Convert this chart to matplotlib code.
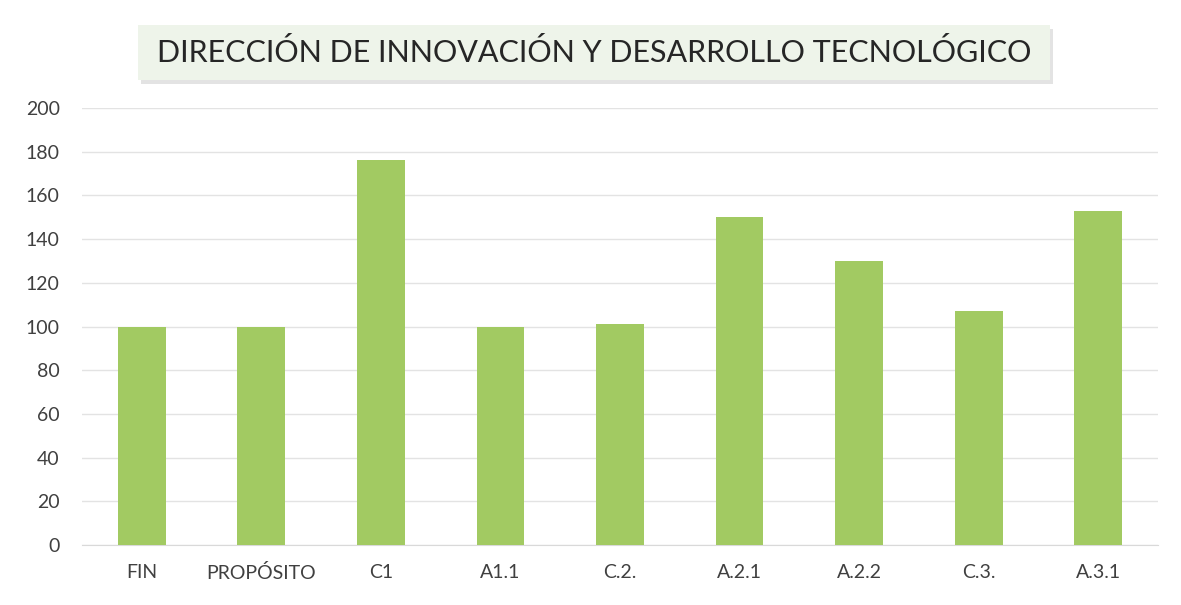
import matplotlib.pyplot as plt
from matplotlib.patches import Rectangle

categories = ['FIN', 'PROPÓSITO', 'C1', 'A1.1', 'C.2.', 'A.2.1', 'A.2.2', 'C.3.', 'A.3.1']
values = [100, 100, 176, 100, 101, 150, 130, 107, 153]
yticks = [0, 20, 40, 60, 80, 100, 120, 140, 160, 180, 200]

plt.rcParams['font.family'] = ['Lato', 'DejaVu Sans']

fig = plt.figure(figsize=(11.81, 6.05), dpi=100)
ax = fig.add_axes([82 / 1181, 60 / 605, (1158 - 82) / 1181, 437 / 605])

ax.bar(range(len(categories)), values, width=0.4, color='#a2ca62', zorder=3)
ax.set_xlim(-0.5, len(categories) - 0.5)
ax.set_ylim(0, 200)
ax.set_yticks(yticks)
ax.set_xticks(range(len(categories)))
ax.set_xticklabels(categories)
ax.tick_params(axis='both', length=0, labelsize=14, colors='#404040')
ax.tick_params(axis='y', pad=16)
ax.tick_params(axis='x', pad=14)
ax.grid(axis='y', color='#e3e3e3', linewidth=1, zorder=0)
for s in ['top', 'right', 'left']:
    ax.spines[s].set_visible(False)
ax.spines['bottom'].set_color('#d9d9d9')

# title box with a soft shadow
fig.patches.append(Rectangle((141 / 1181, 1 - 84 / 605), 912 / 1181, 55 / 605,
                             transform=fig.transFigure, facecolor='#c8c8c8',
                             edgecolor='none', alpha=0.5))
fig.patches.append(Rectangle((138 / 1181, 1 - 80 / 605), 912 / 1181, 55 / 605,
                             transform=fig.transFigure, facecolor='#eef4ea',
                             edgecolor='none'))
fig.text(594 / 1181, 1 - 52 / 605, 'DIRECCIÓN DE INNOVACIÓN Y DESARROLLO TECNOLÓGICO',
         ha='center', va='center', fontsize=22, color='#262626')

fig.savefig('out.png', dpi=100)
